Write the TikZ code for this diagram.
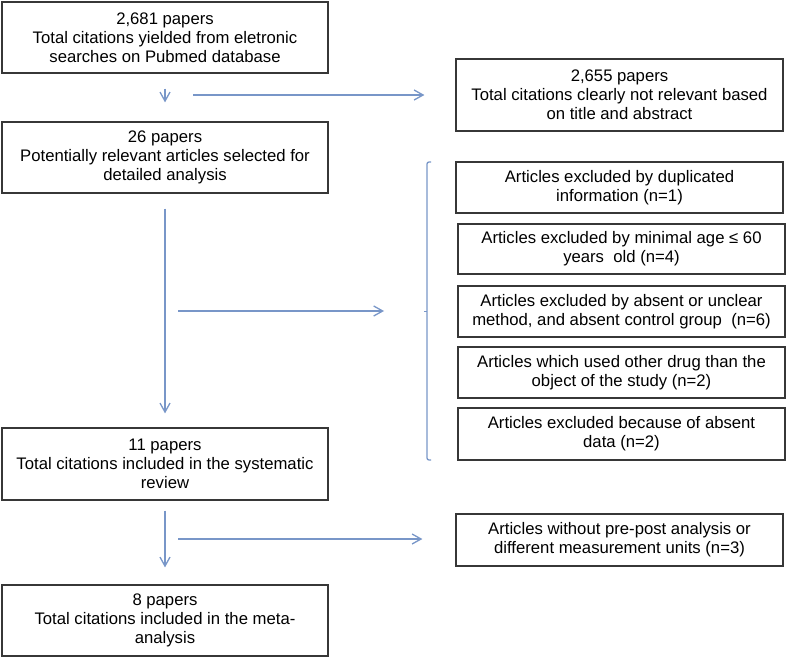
\documentclass[tikz,border=0pt]{standalone}
\usepackage{fontspec}
\setmainfont{Liberation Sans}
\usetikzlibrary{arrows.meta,calc}
\definecolor{arr}{RGB}{120,150,200}
\definecolor{boxc}{RGB}{55,55,55}
\begin{document}
\begin{tikzpicture}[x=1pt,y=-1pt,
  box/.style={draw=boxc, line width=1.2pt, align=center, font=\fontsize{16.7}{19}\selectfont, inner sep=0pt, minimum width=326pt},
  conn/.style={draw=arr, line width=1.3pt, -{Straight Barb[length=9pt,width=10pt]}},
  brk/.style={draw=arr, line width=1.3pt, rounded corners=2pt}]
\useasboundingbox (0,0) rectangle (787,658);
\node[box, minimum height=71pt] (b1) at (165,37.5) {2,681 papers\\Total citations yielded from eletronic\\searches on Pubmed database};
\node[box, minimum width=327pt, minimum height=72pt] (b2) at (619.5,95) {2,655 papers\\Total citations clearly not relevant based\\on title and abstract};
\node[box, minimum height=71pt] (b3) at (165,157.5) {26 papers\\Potentially relevant articles selected for\\detailed analysis};
\node[box, minimum width=327pt, minimum height=51pt] (e1) at (619.5,187.5) {Articles excluded by duplicated\\information (n=1)};
\node[box, minimum width=327pt, minimum height=50pt] (e2) at (621.5,249) {Articles excluded by minimal age ≤ 60\\years\ \ old (n=4)};
\node[box, minimum width=327pt, minimum height=51pt] (e3) at (621.5,311.5) {Articles excluded by absent or unclear\\method, and absent control group\ \ (n=6)};
\node[box, minimum width=327pt, minimum height=51pt] (e4) at (621.5,372.5) {Articles which used other drug than the\\object of the study (n=2)};
\node[box, minimum width=327pt, minimum height=52pt] (e5) at (621.5,434) {Articles excluded because of absent\\data (n=2)};
\node[box, minimum height=72pt] (b4) at (165,464) {11 papers\\Total citations included in the systematic\\review};
\node[box, minimum width=327pt, minimum height=52pt] (e6) at (619.5,540) {Articles without pre-post analysis or\\different measurement units (n=3)};
\node[box, minimum height=71pt] (b5) at (165,620.5) {8 papers\\Total citations included in the meta-\\analysis};
% connectors
\draw[conn] ($(b1.south)+(0,15)$) -- ($(b3.north)+(0,-19)$);
\coordinate (h1) at (193,95);
\draw[conn] (h1) -- ($(b2.west)+(-31,0)$);
\draw[conn] ($(b3.south)+(0,15)$) -- ($(b4.north)+(0,-14)$);
\coordinate (h2) at (178,311);
\coordinate (h2e) at (384,311);
\draw[conn] (h2) -- (h2e);
\coordinate (bt) at (431,162);
\coordinate (bb) at (431,460);
\draw[brk] (bt) -- (427,162) -- (427,460) -- (bb);
\draw[draw=arr, line width=1pt] (427,311) -- (424,311);
\draw[conn] ($(b4.south)+(0,10)$) -- ($(b5.north)+(0,-17)$);
\coordinate (h3) at (178,539);
\draw[conn] (h3) -- ($(e6.west)+(-33,-1)$);
\end{tikzpicture}
\end{document}
